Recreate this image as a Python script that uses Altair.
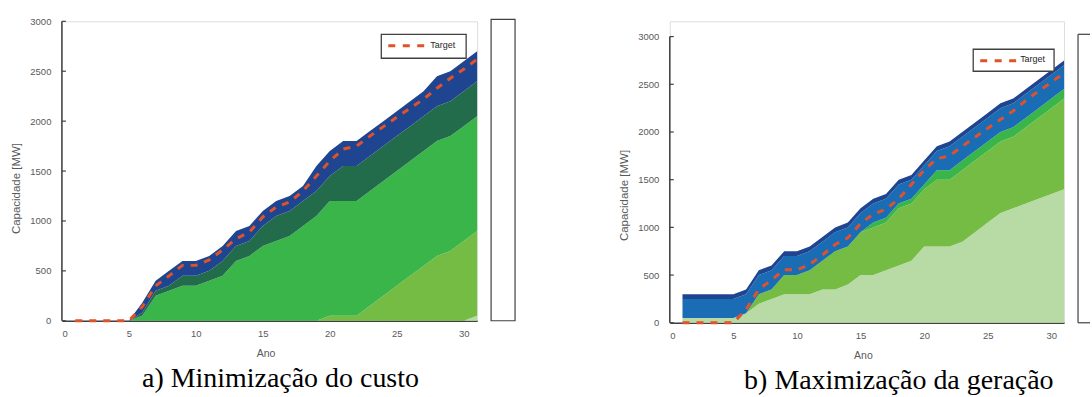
import altair as alt
import pandas as pd

YEARS = list(range(1, 32))
Y_TICKS = [0, 500, 1000, 1500, 2000, 2500, 3000]
X_TICKS = [0, 5, 10, 15, 20, 25, 30]

TARGET = [0, 0, 0, 0, 0, 140, 350, 450, 555, 555, 610, 710, 820, 890, 1040, 1140,
          1190, 1300, 1450, 1600, 1720, 1750, 1850, 1945, 2040, 2130, 2220, 2330,
          2430, 2520, 2620]

# a) Minimizacao do custo - cumulative top of each band (bottom to top)
A_LIGHT = [0] * 29 + [0, 50]
A_YELLOW = [0] * 19 + [50, 50, 50, 150, 250, 350, 450, 550, 650, 700, 800, 900]
A_GREEN = [0, 0, 0, 0, 0, 50, 250, 300, 350, 350, 400, 450, 600, 650, 750, 800,
           850, 950, 1050, 1200, 1200, 1200, 1300, 1400, 1500, 1600, 1700, 1800,
           1850, 1950, 2050]
A_DKGREEN = [0, 0, 0, 0, 0, 80, 300, 350, 450, 450, 500, 600, 750, 800, 950, 1050,
             1100, 1200, 1300, 1450, 1550, 1550, 1650, 1750, 1850, 1950, 2050, 2150,
             2200, 2300, 2400]
A_BLUE = [0, 0, 0, 0, 0, 180, 400, 500, 600, 600, 650, 750, 900, 950, 1100, 1200,
          1250, 1350, 1550, 1700, 1800, 1800, 1900, 2000, 2100, 2200, 2300, 2450,
          2500, 2600, 2700]

# b) Maximizacao da geracao
B_LIGHT = [50, 50, 50, 50, 50, 100, 200, 250, 300, 300, 300, 350, 350, 400, 500, 500,
           550, 600, 650, 800, 800, 800, 850, 950, 1050, 1150, 1200, 1250, 1300, 1350, 1400]
B_YELLOW = [50, 50, 50, 50, 50, 100, 300, 350, 500, 500, 550, 650, 750, 800, 950, 1000,
            1050, 1200, 1250, 1400, 1500, 1500, 1600, 1700, 1800, 1900, 1950, 2050,
            2150, 2250, 2350]
B_GREEN = [50, 50, 50, 50, 50, 100, 300, 350, 500, 500, 550, 650, 750, 800, 950, 1050,
           1100, 1250, 1300, 1450, 1600, 1600, 1700, 1800, 1900, 2000, 2050, 2150,
           2250, 2350, 2450]
B_MBLUE = [250, 250, 250, 250, 250, 300, 500, 550, 700, 700, 750, 850, 950, 1000, 1150,
           1250, 1300, 1450, 1500, 1650, 1800, 1850, 1950, 2050, 2150, 2250, 2300, 2400,
           2500, 2600, 2700]
B_DKBLUE = [300, 300, 300, 300, 300, 350, 550, 600, 750, 750, 800, 900, 1000, 1050, 1200,
            1300, 1350, 1500, 1550, 1700, 1850, 1900, 2000, 2100, 2200, 2300, 2350, 2450,
            2550, 2650, 2750]

LAYER_NAMES = ["L1", "L2", "L3", "L4", "L5"]
LAYER_COLORS_A = ["#b8dba5", "#74bc44", "#39b54a", "#236c4b", "#1f4591"]
LAYER_COLORS_B = ["#b8dba5", "#74bc44", "#39b54a", "#1a6db5", "#1f4591"]
LEGEND_LABEL = ["Target"]

AXIS_COLOR = "#404040"
LABEL_COLOR = "#595959"
TARGET_COLOR = "#e0522a"
FONT = "Liberation Sans"


def bands(names, tops_list):
    rows = []
    prev = [0] * len(YEARS)
    for name, tops in zip(names, tops_list):
        for yr, lo, hi in zip(YEARS, prev, tops):
            rows.append({"ano": yr, "camada": name, "lo": lo, "hi": hi})
        prev = tops
    return pd.DataFrame(rows)


def panel(df_bands, colors, width, height, ymax, leg, title_y, caption,
          caption_dx, frame):
    xs = alt.Scale(domain=[0, 31], nice=False)
    ys = alt.Scale(domain=[0, ymax], nice=False)
    x_axis = alt.Axis(values=X_TICKS, ticks=False, domain=True, domainColor=AXIS_COLOR,
                      domainWidth=1.5, labelFont=FONT, labelFontSize=9.5,
                      labelColor=LABEL_COLOR, labelPadding=8, grid=False,
                      title="Ano", titleFont=FONT, titleFontSize=10.5,
                      titleFontWeight="normal", titleColor=LABEL_COLOR, titlePadding=10,
                      titleX=width / 2 - 4)
    y_axis = alt.Axis(values=Y_TICKS, format="d", ticks=False, domain=False,
                      labelFont=FONT, labelFontSize=9.5, labelColor=LABEL_COLOR,
                      labelPadding=11, grid=False, title="Capacidade [MW]",
                      titleFont=FONT, titleFontSize=11.5, titleFontWeight="normal",
                      titleColor=LABEL_COLOR, titlePadding=8, titleY=title_y)

    areas = alt.Chart(df_bands).mark_area(interpolate="linear").encode(
        x=alt.X("ano:Q", scale=xs, axis=x_axis),
        y=alt.Y("hi:Q", scale=ys, axis=y_axis),
        y2="lo:Q",
        color=alt.Color("camada:N", scale=alt.Scale(domain=LAYER_NAMES, range=colors),
                        legend=None),
    )

    df_t = pd.DataFrame({"ano": YEARS, "target": TARGET})
    target = alt.Chart(df_t).mark_line(strokeDash=[7, 7], strokeWidth=3,
                                       color=TARGET_COLOR).encode(
        x=alt.X("ano:Q", scale=xs),
        y=alt.Y("target:Q", scale=ys),
    )

    df_axis = pd.DataFrame({"lo": [0], "hi": [3000]})
    yline = alt.Chart(df_axis).mark_rule(color=AXIS_COLOR, strokeWidth=1.5).encode(
        x=alt.value(0), y=alt.Y("lo:Q", scale=ys), y2="hi:Q")

    df_ticks = pd.DataFrame({"v": Y_TICKS})
    yticks = alt.Chart(df_ticks).mark_rule(color=AXIS_COLOR, strokeWidth=1.2).encode(
        y=alt.Y("v:Q", scale=ys), x=alt.value(0), x2=alt.value(4))

    layers = [areas, target, yline, yticks]

    # legend box (drawn by hand so the dashed sample can be long and the box short)
    df_leg = pd.DataFrame({"serie": LEGEND_LABEL})
    bx1, bx2, by1, by2, lx1, lx2, ly, tx, ty = leg
    layers.append(alt.Chart(df_leg).mark_rect(fill="white", stroke=AXIS_COLOR,
                                              strokeWidth=1.3).encode(
        x=alt.value(bx1), x2=alt.value(bx2), y=alt.value(by1), y2=alt.value(by2)))
    layers.append(alt.Chart(df_leg).mark_rule(color=TARGET_COLOR, strokeWidth=3,
                                              strokeDash=[7, 7.5]).encode(
        x=alt.value(lx1), x2=alt.value(lx2), y=alt.value(ly)))
    layers.append(alt.Chart(df_leg).mark_text(font=FONT, fontSize=9, color="#262626",
                                              align="left", baseline="middle").encode(
        x=alt.value(tx), y=alt.value(ty), text="serie:N"))

    df_frame = pd.DataFrame({"k": [0]})
    fx1, fx2, fy1, fy2, closed = frame
    if closed:
        layers.append(alt.Chart(df_frame).mark_rect(fill="white", stroke=AXIS_COLOR,
                                                    strokeWidth=1.2).encode(
            x=alt.value(fx1), x2=alt.value(fx2), y=alt.value(fy1), y2=alt.value(fy2)))
    else:
        for (a, b, c, d) in [(fx1, fx2, fy1, fy1), (fx1, fx1, fy1, fy2), (fx1, fx2, fy2, fy2)]:
            layers.append(alt.Chart(df_frame).mark_rule(color=AXIS_COLOR, strokeWidth=1.2).encode(
                x=alt.value(a), x2=alt.value(b), y=alt.value(c), y2=alt.value(d)))

    return alt.layer(*layers).properties(
        width=width, height=height,
        title=alt.TitleParams(text=caption, orient="bottom", font="Liberation Serif",
                              fontSize=28, fontWeight="normal", color="black",
                              anchor="middle", dx=caption_dx, offset=6),
    )


left = panel(bands(LAYER_NAMES, [A_LIGHT, A_YELLOW, A_GREEN, A_DKGREEN, A_BLUE]),
             LAYER_COLORS_A, 416, 300, 3000,
             (320, 405, 13, 37, 327, 365, 24.5, 369, 23.5), 167,
             "a) Minimização do custo", 11, (430, 454, -2, 300, True))

right = panel(bands(LAYER_NAMES, [B_LIGHT, B_YELLOW, B_GREEN, B_MBLUE, B_DKBLUE]),
              LAYER_COLORS_B, 395, 302, 3160,
              (304, 385, 28, 50, 311, 347, 39.5, 351, 38), 174,
              "b) Maximização da geração", 32, (409, 421, 13, 302, False))

chart = alt.hconcat(left, right, spacing=193, bounds="flush").resolve_scale(
    x="independent", y="independent", color="independent"
).properties(
    padding={"left": 10, "top": 15, "right": 0, "bottom": 0}
).configure_view(stroke=None).configure(background="white")

chart.save("out.html", embed_options={"renderer": "svg", "actions": False})
